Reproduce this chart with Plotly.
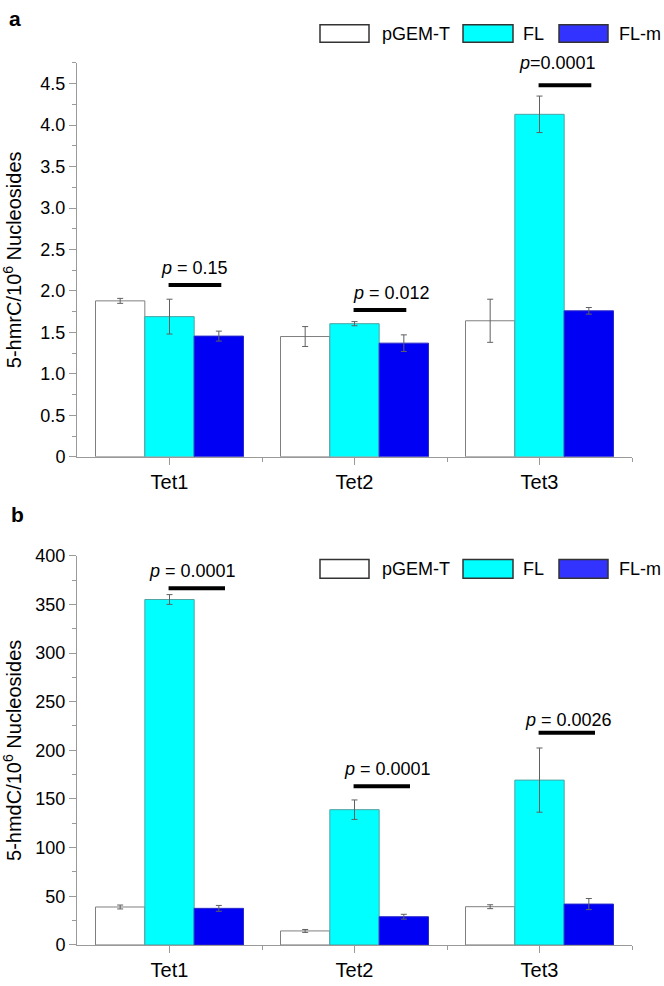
import plotly.graph_objects as go
from plotly.subplots import make_subplots

# categories and series
categories = ["Tet1", "Tet2", "Tet3"]
series_names = ["pGEM-T", "FL", "FL-m"]

# panel a: 5-hmrC per 10^6 nucleosides
hmrc_pgem = [1.88, 1.45, 1.64]
hmrc_pgem_err = [0.03, 0.12, 0.26]
hmrc_fl = [1.69, 1.605, 4.13]
hmrc_fl_err = [0.21, 0.025, 0.22]
hmrc_flm = [1.455, 1.37, 1.76]
hmrc_flm_err = [0.06, 0.10, 0.04]
hmrc_p_text = ["<i>p</i> = 0.15", "<i>p</i> = 0.012", "<i>p</i>=0.0001"]
hmrc_p_bar = [2.07, 1.77, 4.48]

# panel b: 5-hmdC per 10^6 nucleosides
hmdc_pgem = [39, 14.4, 39.3]
hmdc_pgem_err = [2, 1.5, 2]
hmdc_fl = [355, 139, 169.4]
hmdc_fl_err = [5, 10, 33]
hmdc_flm = [37.6, 29, 42]
hmdc_flm_err = [3, 2.5, 5.7]
hmdc_p_text = ["<i>p</i> = 0.0001", "<i>p</i> = 0.0001", "<i>p</i> = 0.0026"]
hmdc_p_bar = [366.5, 163, 218]

W, H = 664, 986
FONT = "Liberation Sans, Arial, sans-serif"
fills = ["#FFFFFF", "#00FFFF", "#0000F5"]
edges = ["#7F7F7F", "#4FA3A3", "#2A2AC8"]
legend_fills = ["#FFFFFF", "#00FFFF", "#3333FF"]


def px(x):
    return x / W


def py(y):
    return 1 - y / H


fig = make_subplots(rows=2, cols=1)
xs = list(range(len(categories)))

panels = [
    (1, [hmrc_pgem, hmrc_fl, hmrc_flm], [hmrc_pgem_err, hmrc_fl_err, hmrc_flm_err]),
    (2, [hmdc_pgem, hmdc_fl, hmdc_flm], [hmdc_pgem_err, hmdc_fl_err, hmdc_flm_err]),
]
for row, vals, errs in panels:
    for i, name in enumerate(series_names):
        fig.add_trace(go.Bar(
            x=xs, y=vals[i], name=name, showlegend=False,
            marker=dict(color=fills[i], line=dict(color=edges[i], width=1)),
            error_y=dict(type="data", array=errs[i], color="#606060",
                         thickness=1, width=3),
        ), row=row, col=1)

# significance bars, from FL centre to FL-m centre
for row, bars, span in [(1, hmrc_p_bar, 0.28), (2, hmdc_p_bar, 0.30)]:
    for i, yv in enumerate(bars):
        fig.add_trace(go.Scatter(
            x=[xs[i] - 0.005, xs[i] + span], y=[yv, yv], mode="lines",
            line=dict(color="black", width=4), showlegend=False,
            hoverinfo="skip"), row=row, col=1)

fig.update_layout(barmode="group", bargap=0.2, bargroupgap=0,
                  width=W, height=H, margin=dict(l=0, r=0, t=0, b=0),
                  plot_bgcolor="white", paper_bgcolor="white",
                  font=dict(family=FONT, size=18, color="black"))

xdom = [px(77), px(632)]
axis_common = dict(showline=True, linecolor="#9A9A9A", linewidth=1,
                   ticks="outside", tickcolor="#9A9A9A", ticklen=7,
                   showgrid=False, zeroline=False)
fig.update_layout(
    xaxis=dict(domain=xdom, range=[-0.5, 2.5], tickvals=xs, ticktext=categories,
               tickfont=dict(size=20),
               minor=dict(tickvals=[0.5, 1.5, 2.5], ticklen=4, tickcolor="#9A9A9A"),
               **axis_common),
    xaxis2=dict(domain=xdom, range=[-0.5, 2.5], tickvals=xs, ticktext=categories,
                tickfont=dict(size=20),
                minor=dict(tickvals=[0.5, 1.5, 2.5], ticklen=4, tickcolor="#9A9A9A"),
                **axis_common),
    yaxis=dict(domain=[py(456), py(54)], range=[0, 4.75],
               tickvals=[0, 0.5, 1, 1.5, 2, 2.5, 3, 3.5, 4, 4.5],
               ticktext=["0", "0.5", "1.0", "1.5", "2.0", "2.5", "3.0", "3.5", "4.0", "4.5"],
               minor=dict(dtick=0.25, tick0=0, ticklen=4, tickcolor="#9A9A9A"),
               title=dict(text="5-hmrC/10<sup>6</sup> Nucleosides", font=dict(size=20),
                          standoff=14),
               **axis_common),
    yaxis2=dict(domain=[py(954.3), py(557)], range=[0, 400], dtick=50,
                minor=dict(dtick=25, tick0=0, ticklen=4, tickcolor="#9A9A9A"),
                title=dict(text="5-hmdC/10<sup>6</sup> Nucleosides", font=dict(size=20),
                           standoff=14),
                **axis_common),
)

# p-value labels
annots = []
for xref, yref, texts, ys, offs in [
    ("x", "y", hmrc_p_text, [2.28, 1.97, 4.745], [0.135, 0.2, 0.097]),
    ("x2", "y2", hmdc_p_text, [384, 180.7, 231], [0.124, 0.18, 0.157]),
]:
    for i, t in enumerate(texts):
        annots.append(dict(x=xs[i] + offs[i], y=ys[i], xref=xref, yref=yref,
                           text=t, showarrow=False, font=dict(size=18),
                           xanchor="center", yanchor="middle"))

# panel letters
annots.append(dict(x=px(7), y=py(9), xref="paper", yref="paper", text="<b>a</b>",
                   showarrow=False, font=dict(size=21), xanchor="left", yanchor="middle"))
annots.append(dict(x=px(9), y=py(515), xref="paper", yref="paper", text="<b>b</b>",
                   showarrow=False, font=dict(size=21), xanchor="left", yanchor="middle"))

# custom legends with wide boxes
shapes = []
box_x = [(320, 369), (463, 513), (559, 608)]
text_x = [380, 521, 617]
for y0, y1 in [(15, 33), (561, 580)]:
    for i, name in enumerate(series_names):
        shapes.append(dict(type="rect", xref="paper", yref="paper",
                           x0=px(box_x[i][0]), x1=px(box_x[i][1]),
                           y0=py(y1), y1=py(y0),
                           fillcolor=legend_fills[i],
                           line=dict(color="#333333", width=1.5)))
        annots.append(dict(x=px(text_x[i]), y=py((y0 + y1) / 2), xref="paper",
                           yref="paper", text=name, showarrow=False,
                           font=dict(size=18), xanchor="left", yanchor="middle"))

fig.update_layout(annotations=annots, shapes=shapes)

# the page body has a default 8px margin; drop it so the figure fills the window
fig.write_html("out.html", config={"displayModeBar": False},
               post_script="document.body.style.margin='0';document.body.style.overflow='hidden';")
